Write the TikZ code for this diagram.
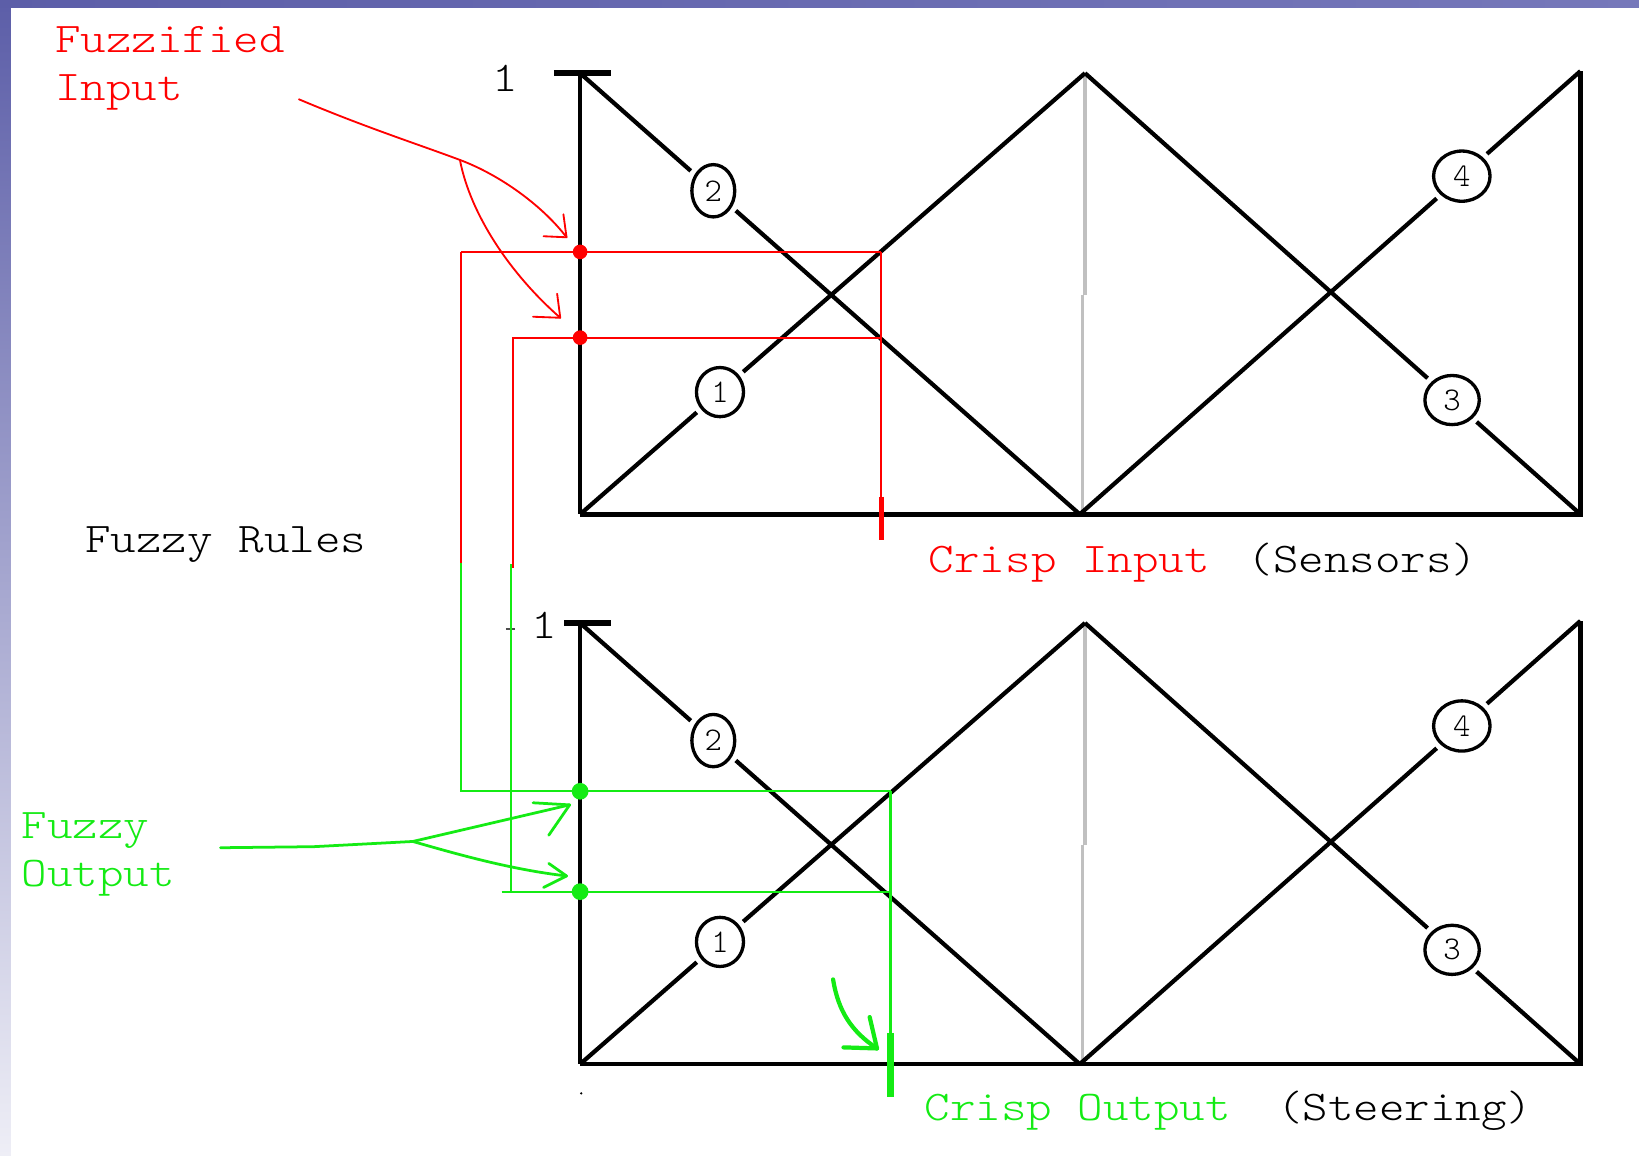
\documentclass[tikz,border=0pt]{standalone}
\usepackage{fontspec}
\newfontfamily\lmlt{lmmonolt10-regular.otf}
\usetikzlibrary{shapes.geometric}

\definecolor{fred}{RGB}{255,0,0}
\definecolor{fgreen}{RGB}{20,235,20}
\definecolor{centregrey}{RGB}{192,192,192}
\definecolor{stripTop}{RGB}{92,94,168}
\definecolor{stripMid}{RGB}{150,150,205}
\definecolor{stripBot}{RGB}{238,238,246}
\definecolor{stripRight}{RGB}{118,120,186}

% typewriter labels, slightly widened
\newcommand\sx[1]{\scalebox{1.15}[1]{#1}}

\begin{document}
\begin{tikzpicture}[
  x=0.01cm, y=-0.01cm,
  axis/.style={line width=1pt, black},
  baseln/.style={line width=1.3pt, black, line join=miter},
  mf/.style={line width=1.15pt, black},
  gapin/.style={shorten >=0.05cm},
  gapout/.style={shorten <=0.05cm},
  topbar/.style={line width=1.7pt, black},
  centre/.style={line width=0.85pt, centregrey},
  lbl/.style={ellipse, draw, line width=0.9pt, fill=white, inner sep=0pt,
              font=\lmlt\fontsize{9}{10}\selectfont},
  txt/.style={inner sep=0pt, anchor=base west, font=\lmlt\fontsize{11.5}{13}\selectfont},
  rline/.style={fred, line width=0.55pt},
  gline/.style={fgreen, line width=0.6pt},
  rarrow/.style={fred, line width=0.5pt, line cap=round, line join=round},
  garrow/.style={fgreen, line width=0.75pt, line cap=round, line join=round},
  gbold/.style={fgreen, line width=1.15pt, line cap=round, line join=round},
  rdot/.style={circle, fill=fred, inner sep=0pt, minimum size=0.14cm},
  gdot/.style={circle, fill=fgreen, inner sep=0pt, minimum size=0.16cm},
]
\useasboundingbox (0,0) rectangle (1568,1105);

% slide background
\fill[white] (0,0) rectangle (1568,1105);
\shade[top color=stripTop, middle color=stripMid, bottom color=stripBot]
  (0,0) rectangle (10.5,1105);
\shade[left color=stripTop, right color=stripRight] (0,0) rectangle (1568,7);

% the two membership-function charts
\foreach \s/\dy in {t/0,b/526}{
  \begin{scope}[shift={(0,\dy)}]
    \coordinate (tl\s) at (555,70);
    \coordinate (bl\s) at (555,492);
    \coordinate (bm\s) at (1033,492);
    \coordinate (tm\s) at (1038,70);
    \coordinate (br\s) at (1512,492);
    \coordinate (tr\s) at (1512,68);

    \draw[centre] (1038,73) -- (1038,282);
    \draw[centre] (1035.5,282) -- (1035.5,489);

    \draw[axis] (tl\s) -- (bl\s);
    \draw[baseln] (bl\s) -- (br\s) -- (tr\s);

    \node[lbl, minimum width=0.41cm, minimum height=0.50cm] (c2\s) at (682.4,182.5) {2};
    \node[lbl, minimum width=0.45cm, minimum height=0.47cm] (c1\s) at (688.8,375.1) {1};
    \node[lbl, minimum width=0.54cm, minimum height=0.48cm] (c4\s) at (1398.5,168.5) {4};
    \node[lbl, minimum width=0.52cm, minimum height=0.47cm] (c3\s) at (1389.2,382.7) {3};

    \draw[mf, gapin]  (tl\s) -- (c2\s);
    \draw[mf, gapout] (c2\s) -- (bm\s);
    \draw[mf, gapin]  (bl\s) -- (c1\s);
    \draw[mf, gapout] (c1\s) -- (tm\s);
    \draw[mf, gapin]  (bm\s) -- (c4\s);
    \draw[mf, gapout] (c4\s) -- (tr\s);
    \draw[mf, gapin]  (tm\s) -- (c3\s);
    \draw[mf, gapout] (c3\s) -- (br\s);
  \end{scope}
}

% scale marks
\draw[topbar] (530,70) -- (585,70);
\draw[topbar] (540,596) -- (585,596);
\node[txt] (onet) at (470,88) {\sx{1}};
\node[txt] (oneb) at (508,611) {\sx{1}};
\draw[black!70, line width=0.5pt] (484,602) -- (493,602);

% fuzzification of the crisp input
\coordinate (ci) at (843,492);
\coordinate (mu1) at (843,241);
\coordinate (mu2) at (843,323);
\draw[rline] (441,241) -- (mu1);
\draw[rline] (490,323) -- (mu2);
\draw[rline] (mu1) -- (ci);
\draw[fred, line width=1.4pt] (843,475) -- (843,517);
\draw[rline] (441,241) -- (441,539);
\draw[rline] (491,323) -- (491,543);

% rule links into the output chart
\coordinate (mo1) at (852,757);
\coordinate (mo2) at (852,853);
\draw[gline] (441,539) -- (441,757) -- (mo1);
\draw[gline] (489,540) -- (489,853);
\draw[gline] (480,853) -- (mo2);
\draw[gline] (mo1) -- (852,990);
\draw[fgreen, line width=1.8pt] (852,988) -- (852,1049);

\node[rdot] (rd1) at (555,241) {};
\node[rdot] (rd2) at (555,323) {};
\node[gdot] (gd1) at (555,757) {};
\node[gdot] (gd2) at (555,853) {};
\fill[black] (556,1046) circle[radius=0.012cm];

% "Fuzzified Input" pointer
\coordinate (fiA) at (286,95);
\coordinate (fiB) at (440,153);
\coordinate (tipA) at (542,227);
\coordinate (tipB) at (536,304);
\draw[rarrow] (fiA) .. controls (350,122) and (400,138) .. (fiB);
\draw[rarrow] (fiB) .. controls (480,168) and (520,198) .. (tipA);
\draw[rarrow] (520,226) -- (tipA) -- (539,205);
\draw[rarrow] (fiB) .. controls (450,205) and (488,262) .. (tipB);
\draw[rarrow] (510,303) -- (tipB) -- (533,281);

% "Fuzzy Output" pointer
\coordinate (foA) at (211,811);
\coordinate (foB) at (395,805);
\coordinate (tipC) at (545,770);
\coordinate (tipD) at (542,838);
\draw[garrow] (foA) -- (300,810) -- (foB);
\draw[garrow] (foB) -- (tipC);
\draw[garrow] (510,768) -- (tipC) -- (525,799);
\draw[garrow] (foB) .. controls (440,818) and (490,832) .. (tipD);
\draw[garrow] (525,826) -- (tipD) -- (520,849);

% crisp output pointer
\coordinate (tipE) at (839,1003);
\draw[gbold] (797,937) .. controls (802,968) and (815,987) .. (tipE);
\draw[gbold] (807,1002) -- (tipE) -- (832,973);

% labels
\node[txt, text=fred] (fz1) at (52,50) {\sx{Fuzzified}};
\node[txt, text=fred] (fz2) at (52,96) {\sx{Input}};
\node[txt] (rules) at (81,529) {\sx{Fuzzy Rules}};
\node[txt, text=fgreen] (fo1) at (20,802) {\sx{Fuzzy}};
\node[txt, text=fgreen] (fo2) at (20,848) {\sx{Output}};
\node[txt, text=fred] (cin) at (888,548) {\sx{Crisp Input}};
\node[txt] (sens) at (1193,548) {\sx{(Sensors)}};
\node[txt, text=fgreen] (cout) at (884,1071.5) {\sx{Crisp Output}};
\node[txt] (steer) at (1221,1071.5) {\sx{(Steering)}};
\end{tikzpicture}
\end{document}
